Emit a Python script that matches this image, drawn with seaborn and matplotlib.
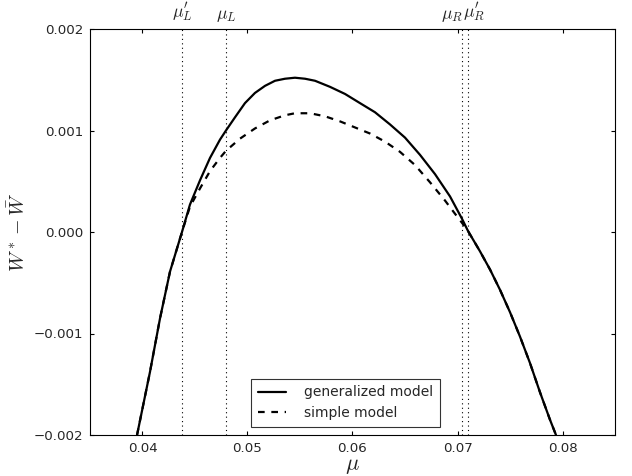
import numpy as np
import pandas as pd
import matplotlib
matplotlib.use("Agg")
import matplotlib.pyplot as plt
import seaborn as sns

# generalized model (solid)
mu_gen = [0.03948, 0.04071, 0.04167, 0.04262, 0.04376, 0.04452, 0.04548, 0.04643,
          0.04738, 0.04795, 0.04881, 0.04976, 0.05071, 0.05167, 0.05262, 0.05357,
          0.05452, 0.05548, 0.05643, 0.05786, 0.05929, 0.06071, 0.06214, 0.06357,
          0.06500, 0.06643, 0.06786, 0.06929, 0.07043, 0.07100, 0.07214, 0.07310,
          0.07405, 0.07500, 0.07595, 0.07690, 0.07786, 0.07881, 0.07938]
w_gen = [-0.00200, -0.00138, -0.00085, -0.00039, 0.00000, 0.00027, 0.00051, 0.00073,
         0.00091, 0.00100, 0.00113, 0.00127, 0.00137, 0.00144, 0.00149, 0.00151,
         0.00152, 0.00151, 0.00149, 0.00143, 0.00136, 0.00127, 0.00118, 0.00106,
         0.00093, 0.00076, 0.00057, 0.00035, 0.00013, 0.00001, -0.00019, -0.00037,
         -0.00057, -0.00079, -0.00103, -0.00129, -0.00158, -0.00185, -0.00200]

# simple model (dashed)
mu_simp = [0.03948, 0.04071, 0.04167, 0.04262, 0.04376, 0.04452, 0.04548, 0.04643,
           0.04738, 0.04795, 0.04929, 0.05071, 0.05214, 0.05357, 0.05452, 0.05595,
           0.05738, 0.05881, 0.06024, 0.06167, 0.06310, 0.06452, 0.06595, 0.06738,
           0.06881, 0.06976, 0.07043, 0.07100, 0.07214, 0.07310, 0.07405, 0.07500,
           0.07595, 0.07690, 0.07786, 0.07881, 0.07938]
w_simp = [-0.00200, -0.00138, -0.00085, -0.00039, 0.00000, 0.00025, 0.00043, 0.00060,
          0.00073, 0.00080, 0.00092, 0.00102, 0.00110, 0.00115, 0.00117, 0.00117,
          0.00114, 0.00109, 0.00103, 0.00097, 0.00089, 0.00079, 0.00066, 0.00049,
          0.00031, 0.00018, 0.00009, 0.00001, -0.00019, -0.00037, -0.00057, -0.00079,
          -0.00103, -0.00129, -0.00158, -0.00185, -0.00200]

# critical points
vline_x = [0.04376, 0.04795, 0.07043, 0.0710]
vline_labels = [r"$\mu_L'$", r"$\mu_L$", r"$\mu_R$", r"$\mu_R'$"]
label_offsets = [0.0, 0.0, -0.0009, 0.0006]

xticks = [0.04, 0.05, 0.06, 0.07, 0.08]
yticks = [-0.002, -0.001, 0.0, 0.001, 0.002]

sns.set_style("ticks", {"xtick.direction": "in", "ytick.direction": "in"})
plt.rcParams["font.family"] = ["DejaVu Sans"]
plt.rcParams["mathtext.fontset"] = "cm"

fig = plt.figure(figsize=(632 / 80, 476 / 80), dpi=80)
ax = fig.add_axes([90 / 632, 1 - 435 / 476, (615 - 90) / 632, (435 - 29) / 476])

df_gen = pd.DataFrame({"mu": mu_gen, "w": w_gen})
df_simp = pd.DataFrame({"mu": mu_simp, "w": w_simp})

sns.lineplot(data=df_gen, x="mu", y="w", ax=ax, color="black", lw=2,
             label="generalized model", sort=False)
sns.lineplot(data=df_simp, x="mu", y="w", ax=ax, color="black", lw=2,
             linestyle=(0, (3, 3)), label="simple model", sort=False)

for xv, lab, off in zip(vline_x, vline_labels, label_offsets):
    ax.axvline(xv, color="black", lw=1, linestyle=(0, (1, 3)))
    ax.text(xv + off, 1.012, lab, transform=ax.get_xaxis_transform(),
            ha="center", va="bottom", fontsize=16)

ax.set_xlim(0.035, 0.085)
ax.set_ylim(-0.002, 0.002)
ax.set_xticks(xticks)
ax.set_yticks(yticks)
ax.set_xticklabels([f"{t:.2f}" for t in xticks])
ax.set_yticklabels([f"{t:.3f}".replace("-", "\u2212") for t in yticks])
ax.tick_params(axis="both", which="major", labelsize=12, length=4, width=1,
               top=True, right=True, direction="in", color="black", pad=6)
for s in ax.spines.values():
    s.set_visible(True)
    s.set_color("black")
    s.set_linewidth(1)

ax.set_xlabel(r"$\mu$", fontsize=20, labelpad=1)
ax.set_ylabel(r"$W^* - \bar{W}$", fontsize=18, labelpad=4)

leg = ax.legend(loc="lower center", bbox_to_anchor=(0.487, 0.0), fontsize=12.5,
                frameon=True, fancybox=False, handlelength=2.0, handletextpad=1.3,
                borderpad=0.5, labelspacing=0.45, borderaxespad=0.6)
leg.get_frame().set_edgecolor("black")
leg.get_frame().set_linewidth(1)

fig.savefig("out.png", dpi=80)
